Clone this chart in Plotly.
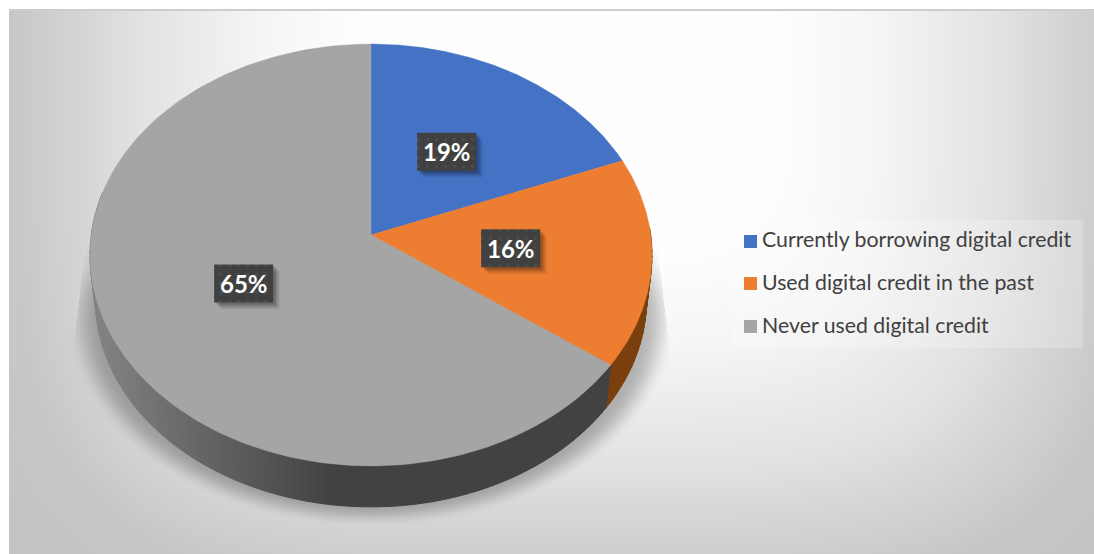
import base64
import zlib
import struct
import numpy as np
import plotly.graph_objects as go

# Chart data
categories = ["Currently borrowing digital credit", "Used digital credit in the past", "Never used digital credit"]
shares = [19, 16, 65]
slice_colors = ["#4472c4", "#ed7d31", "#a5a5a5"]
wall_dark = ["#22375f", "#7a3f0c", "#404040"]

W, H = 1094, 554

# Perspective disc: the pie centre, horizontal and vertical scale, and foreshortening
CX, CY, KX, KY, P = 371.0, 235.0, 279.7, 209.0, 0.0948
BASE_SCALE, BASE_DROP = 0.98, 45.6


def project(theta, r=1.0, base=False):
    """Map clockwise angle from 12 o'clock (radians) and radius to canvas position."""
    u, v = r * np.sin(theta), r * np.cos(theta)
    w = 1 + P * v
    x, y = KX * u / w, -KY * v / w
    if base:
        return CX + BASE_SCALE * x, CY + BASE_SCALE * y + BASE_DROP
    return CX + x, CY + y


def png_uri(gray):
    """Encode an 8-bit grayscale array as a PNG data URI."""
    h, w = gray.shape
    raw = b"".join(b"\x00" + gray[i].tobytes() for i in range(h))

    def chunk(tag, data):
        return struct.pack(">I", len(data)) + tag + data + struct.pack(">I", zlib.crc32(tag + data))

    png = (b"\x89PNG\r\n\x1a\n" + chunk(b"IHDR", struct.pack(">IIBBBBB", w, h, 8, 0, 0, 0, 0))
           + chunk(b"IDAT", zlib.compress(raw, 9)) + chunk(b"IEND", b""))
    return "data:image/png;base64," + base64.b64encode(png).decode()


def smoothstep(t):
    t = np.clip(t, 0, 1)
    return t * t * (3 - 2 * t)


# Plot-area backdrop: light centre falling off toward the edges
yy, xx = np.mgrid[0:H, 0:W].astype(float)
dist = ((np.abs(xx - 570) / 555.0) ** 4 + (np.abs(yy - 50) / 535.0) ** 4) ** 0.25
backdrop = np.interp(dist, [0, 0.38, 0.55, 0.78, 0.86, 1.0, 1.2], [255, 254, 246, 226, 216, 200, 194])

# Soft drop shadow under the disc, cut off along a trapezoid
ring = np.sqrt(((xx - 371) / 306.0) ** 2 + ((yy - 315) / 212.0) ** 2)
shadow = 0.26 * smoothstep((1.0 - ring) / 0.11) * smoothstep((yy - 200) / 110.0)
left_edge = np.where(yy < 365, 90 - (yy - 205) * 19 / 160, 71)
right_edge = np.where(yy < 365, 652 + (yy - 205) * 19 / 160, 671)
shadow *= (xx >= left_edge) & (xx <= right_edge) & (yy <= 523)
backdrop *= 1 - shadow

backdrop[:, :9] = 255
backdrop[:9, :] = 255
backdrop[9:11, 9:] = 205
backdrop = backdrop.astype(np.uint8)

fig = go.Figure()

# Slice boundaries derived from the shares
edges = np.concatenate([[0], np.cumsum(shares)]) / np.sum(shares) * 2 * np.pi

# Side wall: thin strips along the visible rim, darkening from left to front
for i, dark in enumerate(wall_dark):
    start, end = max(edges[i], np.radians(88)), min(edges[i + 1], np.radians(282))
    if end <= start:
        continue
    steps = int(max(2, np.degrees(end - start) / 1.5))
    angles = np.linspace(start, end, steps + 1)
    for a0, a1 in zip(angles[:-1], angles[1:]):
        seg = np.linspace(a0, a1, 3)
        tx, ty = project(seg)
        bx, by = project(seg[::-1], base=True)
        mid_x = float(np.mean(tx))
        if i == 2:
            level = np.interp(mid_x, [95, 330], [130, 66])
            color = f"rgb({level:.0f},{level:.0f},{level:.0f})"
        else:
            color = dark
        fig.add_trace(go.Scatter(
            x=np.concatenate([tx, bx, tx[:1]]), y=np.concatenate([ty, by, ty[:1]]),
            mode="lines", fill="toself", fillcolor=color, line=dict(color=color, width=1),
            hoverinfo="skip", showlegend=False))

# Top face of the disc
for i, (name, value, color) in enumerate(zip(categories, shares, slice_colors)):
    angles = np.linspace(edges[i], edges[i + 1], 180)
    rx, ry = project(angles)
    fig.add_trace(go.Scatter(
        x=np.concatenate([[CX], rx, [CX]]), y=np.concatenate([[CY], ry, [CY]]),
        mode="lines", fill="toself", fillcolor=color, line=dict(color=color, width=0.5),
        name=name, text=f"{value}%", hoverinfo="name+text", showlegend=False))

# Dark value tags sitting halfway out along each slice
BOX_W, BOX_H = 59, 38
for i, value in enumerate(shares):
    lx, ly = project((edges[i] + edges[i + 1]) / 2, r=0.5)
    lx, ly = float(lx), float(ly)
    for off, alpha in ((7, 0.04), (6, 0.05), (5, 0.06), (4, 0.07), (3, 0.09), (2, 0.1)):
        fig.add_trace(go.Scatter(
            x=[lx - BOX_W / 2 + off, lx + BOX_W / 2 + off, lx + BOX_W / 2 + off, lx - BOX_W / 2 + off, lx - BOX_W / 2 + off],
            y=[ly - BOX_H / 2 + off, ly - BOX_H / 2 + off, ly + BOX_H / 2 + off, ly + BOX_H / 2 + off, ly - BOX_H / 2 + off],
            mode="lines", fill="toself", fillcolor=f"rgba(0,0,0,{alpha})", line=dict(width=0),
            hoverinfo="skip", showlegend=False))
    fig.add_trace(go.Scatter(
        x=[lx - BOX_W / 2, lx + BOX_W / 2, lx + BOX_W / 2, lx - BOX_W / 2, lx - BOX_W / 2],
        y=[ly - BOX_H / 2, ly - BOX_H / 2, ly + BOX_H / 2, ly + BOX_H / 2, ly - BOX_H / 2],
        mode="lines", fill="toself", line=dict(width=0), fillcolor="#404040",
        fillpattern=dict(shape=".", bgcolor="#404040", fgcolor="#565656", size=9, solidity=0.12),
        hoverinfo="skip", showlegend=False))
    fig.add_annotation(x=lx, y=ly, text=f"<b>{value}%</b>", showarrow=False,
                       font=dict(family="Lato", size=24, color="#ffffff"))

# Key: swatches with their category names
swatch_y = [241.5, 283.5, 326.5]
key_text_y = [242, 285, 327.5]
fig.add_trace(go.Scatter(
    x=[750.5] * 3, y=swatch_y, mode="markers",
    marker=dict(symbol="square", size=13, color=slice_colors, line=dict(width=0)),
    hoverinfo="skip", showlegend=False))
fig.add_trace(go.Scatter(
    x=[762] * 3, y=key_text_y, mode="text",
    text=categories, textposition="middle right",
    textfont=dict(family="Lato", size=21.3, color="#404040"),
    hoverinfo="skip", showlegend=False))

fig.update_layout(
    width=W, height=H, autosize=False,
    margin=dict(l=0, r=0, t=0, b=0),
    paper_bgcolor="#ffffff", plot_bgcolor="rgba(0,0,0,0)",
    showlegend=False,
    xaxis=dict(range=[0, W], visible=False, fixedrange=True),
    yaxis=dict(range=[H, 0], visible=False, fixedrange=True),
    shapes=[dict(type="rect", xref="x", yref="y", x0=733, x1=1083, y0=220, y1=348,
                 fillcolor="rgba(255,255,255,0.22)", line=dict(width=0), layer="below")],
    images=[
        dict(source=png_uri(backdrop), xref="paper", yref="paper", x=0, y=1, sizex=1, sizey=1,
             sizing="stretch", xanchor="left", yanchor="top", layer="below"),
    ],
)

fig.write_html("out.html", config={"displayModeBar": False})
